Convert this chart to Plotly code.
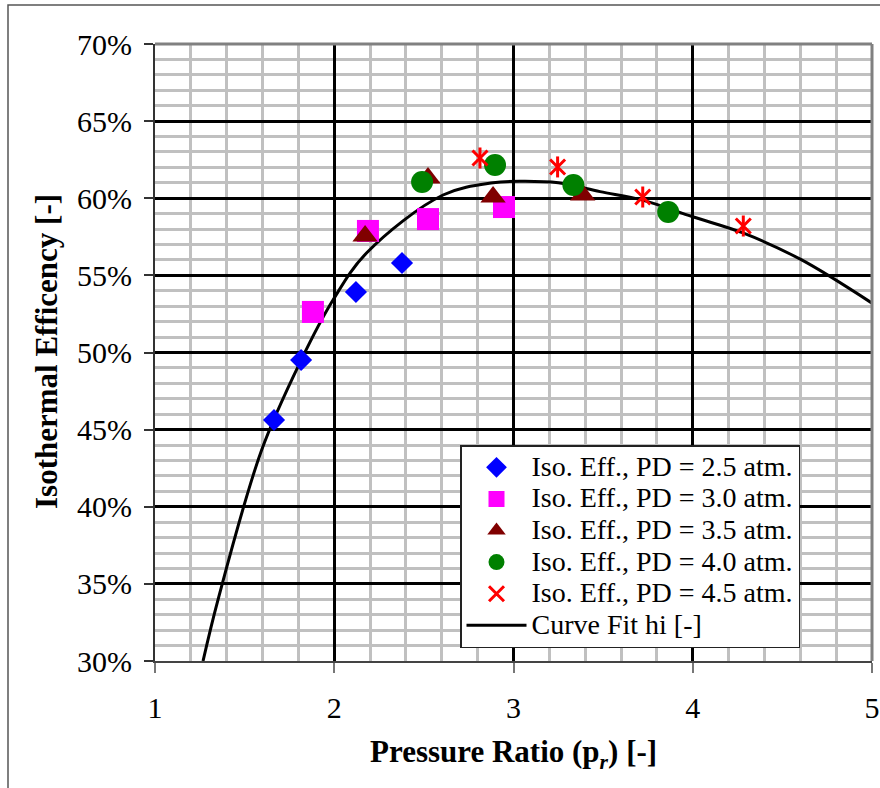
import plotly.graph_objects as go

# ---- data ----
pd25_x = [1.664, 1.815, 2.121, 2.378]
pd25_y = [45.62, 49.51, 53.92, 55.80]

pd30_x = [1.881, 2.188, 2.523, 2.947]
pd30_y = [52.63, 57.88, 58.65, 59.43]

pd35_x = [2.172, 2.523, 2.886, 3.386]
pd35_y = [57.55, 61.31, 60.08, 60.21]

pd40_x = [2.490, 2.897, 3.334, 3.863]
pd40_y = [61.05, 62.16, 60.86, 59.11]

pd45_x = [2.813, 3.246, 3.721, 4.282]
pd45_y = [62.61, 62.03, 60.08, 58.20]

fit_x = [1.268, 1.351, 1.595, 1.815, 1.993, 2.180, 2.607, 2.886, 3.050, 3.250,
         3.483, 3.720, 4.000, 4.280, 4.600, 5.000]
fit_y = [30.0, 33.95, 43.68, 49.50, 53.40, 56.45, 60.21, 61.00, 61.10, 61.00,
         60.43, 59.88, 58.80, 57.75, 56.05, 53.20]

y_ticks = [30, 35, 40, 45, 50, 55, 60, 65, 70]
x_ticks = [1, 2, 3, 4, 5]

names = ["Iso. Eff., PD = 2.5 atm.", "Iso. Eff., PD = 3.0 atm.",
         "Iso. Eff., PD = 3.5 atm.", "Iso. Eff., PD = 4.0 atm.",
         "Iso. Eff., PD = 4.5 atm.", "Curve Fit hi [-]"]

SERIF = "Liberation Serif, Times New Roman, serif"
LEG_TXT = 28


def lname(s):
    return '<span style="font-size:%dpx">%s</span>' % (LEG_TXT, s)


fig = go.Figure()

# curve first so that markers sit on top of it
fig.add_trace(go.Scatter(x=fit_x, y=fit_y, mode="lines", name=lname(names[5]),
                         line=dict(color="black", width=3, shape="spline", smoothing=1.0),
                         legendrank=1006, hoverinfo="skip"))

fig.add_trace(go.Scatter(x=pd25_x, y=pd25_y, mode="markers", name=lname(names[0]),
                         marker=dict(symbol="diamond", size=17, color="#0000ff"),
                         legendrank=1001))
fig.add_trace(go.Scatter(x=pd30_x, y=pd30_y, mode="markers", name=lname(names[1]),
                         marker=dict(symbol="square", size=22, color="#ff00ff"),
                         legendrank=1002))
fig.add_trace(go.Scatter(x=pd35_x, y=pd35_y, mode="markers", name=lname(names[2]),
                         marker=dict(symbol="triangle-up", size=22, color="#800000"),
                         legendrank=1003))
fig.add_trace(go.Scatter(x=pd40_x, y=pd40_y, mode="markers", name=lname(names[3]),
                         marker=dict(symbol="circle", size=22, color="#008000"),
                         legendrank=1004))
fig.add_trace(go.Scatter(x=pd45_x, y=pd45_y, mode="markers", name=lname(names[4]),
                         marker=dict(symbol="x-thin-open", size=15, color="#ff0000",
                                     line=dict(color="#ff0000", width=3)),
                         legendgroup="pd45", legendrank=1005))
fig.add_trace(go.Scatter(x=pd45_x, y=pd45_y, mode="markers", name=names[4],
                         marker=dict(symbol="line-ns-open", size=15, color="#ff0000",
                                     line=dict(color="#ff0000", width=3)),
                         legendgroup="pd45", showlegend=False))

L, R, T, B = 155, 8, 44, 127
W, H = 880, 788
pw, ph = W - L - R, H - T - B


def px_x(p):
    return (p - L) / pw


def px_y(p):
    return (H - B - p) / ph


fig.update_layout(
    width=W, height=H, autosize=False,
    margin=dict(l=L, r=R, t=T, b=B, pad=0, autoexpand=False),
    paper_bgcolor="white", plot_bgcolor="white",
    font=dict(family=SERIF, color="black", size=30),
    xaxis=dict(range=[1, 5], tickvals=x_ticks, ticktext=[str(v) for v in x_ticks],
               automargin=False,
               showgrid=True, gridcolor="black", gridwidth=3,
               minor=dict(dtick=0.2, showgrid=True, gridcolor="#c0c0c0", gridwidth=3),
               zeroline=False, showline=True, linecolor="#444444", linewidth=2,
               ticks="outside", ticklen=10, tickwidth=1.5, tickcolor="#777777",
               tickfont=dict(family=SERIF, size=30, color="black"),
               ticklabelstandoff=9),
    yaxis=dict(range=[30, 70], tickvals=y_ticks, ticktext=["%d%%" % v for v in y_ticks],
               automargin=False,
               showgrid=True, gridcolor="black", gridwidth=3,
               minor=dict(dtick=1, showgrid=True, gridcolor="#c0c0c0", gridwidth=3),
               zeroline=False, showline=True, linecolor="#333333", linewidth=2,
               ticks="outside", ticklen=9, tickwidth=2, tickcolor="#333333",
               tickfont=dict(family=SERIF, size=30, color="black"),
               ticklabelstandoff=6),
    legend=dict(x=px_x(460), y=px_y(445), xanchor="left", yanchor="top",
                bgcolor="white", bordercolor="#222222", borderwidth=1.5,
                font=dict(family=SERIF, size=22, color="black"),
                itemwidth=60, tracegroupgap=0),
    showlegend=True,
)

# axis titles
fig.add_annotation(text="<b>Pressure Ratio (p<sub><i>r</i></sub>) [-]</b>",
                   xref="paper", yref="paper", x=0.5, y=px_y(754),
                   xanchor="center", yanchor="middle", showarrow=False,
                   font=dict(family=SERIF, size=31, color="black"))
fig.add_annotation(text="<b>Isothermal Efficency [-]</b>", textangle=-90,
                   xref="paper", yref="paper", x=px_x(46), y=px_y(352),
                   xanchor="center", yanchor="middle", showarrow=False,
                   font=dict(family=SERIF, size=31, color="black"))

# plot-area border (top/right grey) and outer chart border
fig.add_shape(type="line", xref="paper", yref="paper", x0=0, x1=1, y0=1, y1=1,
              line=dict(color="#808080", width=3), layer="above")
fig.add_shape(type="line", xref="paper", yref="paper", x0=1, x1=1, y0=0, y1=1,
              line=dict(color="#808080", width=3), layer="above")
fig.add_shape(type="rect", xref="paper", yref="paper",
              x0=px_x(8), x1=px_x(895), y0=px_y(800), y1=px_y(5),
              line=dict(color="#555555", width=1.5), fillcolor="rgba(0,0,0,0)",
              layer="below")

fig.write_html("out.html", config={"displayModeBar": False},
               post_script="document.body.style.margin='0';"
                           "document.body.style.overflow='hidden';")
